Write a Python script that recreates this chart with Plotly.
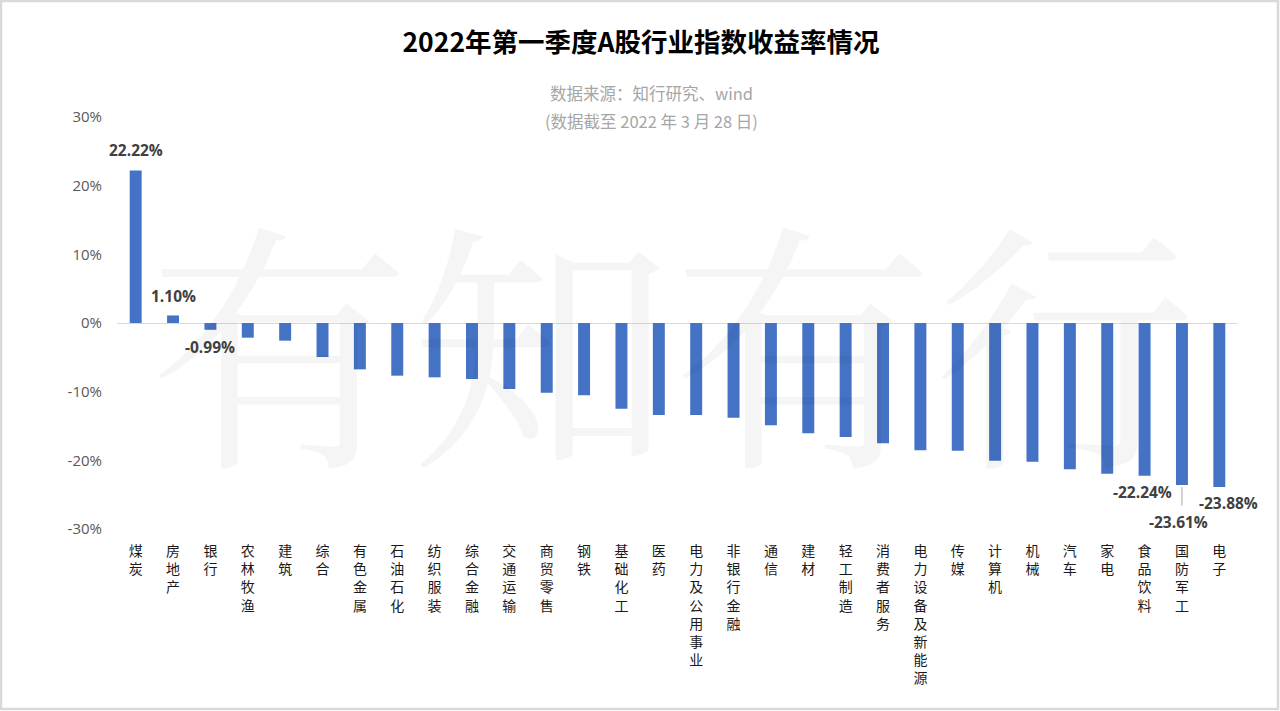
import plotly.graph_objects as go

categories = ["煤炭", "房地产", "银行", "农林牧渔", "建筑", "综合", "有色金属", "石油石化",
              "纺织服装", "综合金融", "交通运输", "商贸零售", "钢铁", "基础化工", "医药",
              "电力及公用事业", "非银行金融", "通信", "建材", "轻工制造", "消费者服务",
              "电力设备及新能源", "传媒", "计算机", "机械", "汽车", "家电", "食品饮料",
              "国防军工", "电子"]
returns = [22.22, 1.10, -0.99, -2.14, -2.57, -4.95, -6.75, -7.67, -7.91, -8.16, -9.61,
           -10.15, -10.53, -12.48, -13.40, -13.40, -13.79, -14.90, -16.07, -16.60, -17.52,
           -18.54, -18.59, -20.05, -20.19, -21.31, -21.94, -22.24, -23.61, -23.88]
y_ticks = [-30, -20, -10, 0, 10, 20, 30]
y_tick_labels = ["-30%", "-20%", "-10%", "0%", "10%", "20%", "30%"]
labelled = ["煤炭", "房地产", "银行", "食品饮料", "国防军工", "电子"]

W, H = 1280, 711
L, R, T, B = 117, 42, 117, 182
pw, ph = W - L - R, H - T - B

CJK = "Microsoft YaHei, Noto Sans CJK SC, sans-serif"
NUM = "Segoe UI, Open Sans, Noto Sans, sans-serif"

fig = go.Figure()
fig.add_trace(go.Bar(
    x=categories, y=returns,
    marker=dict(color="#4472C4", line=dict(width=0)),
    hoverinfo="skip",
))

# vertical (stacked characters) category labels
tick_text = ["<br>".join(list(c)) for c in categories]

fig.update_layout(
    width=W, height=H,
    margin=dict(l=L, r=R, t=T, b=B, pad=0, autoexpand=False),
    paper_bgcolor="white", plot_bgcolor="rgba(0,0,0,0)",
    showlegend=False,
    bargap=0.68,
    title=dict(text="<b>2022年第一季度A股行业指数收益率情况</b>", x=(641 / W), xanchor="center",
               y=1 - 43 / H, yanchor="middle",
               font=dict(family=CJK, size=26.5, color="#000000")),
    xaxis=dict(
        range=[-0.5, len(categories) - 0.5], automargin=False,
        tickmode="array", tickvals=categories, ticktext=tick_text,
        tickangle=0, showgrid=False, showline=False, ticks="",
        tickfont=dict(family=CJK, size=14, color="#1a1a1a"),
        ticklabelstandoff=12,
    ),
    yaxis=dict(
        range=[-30, 30], automargin=False, tickmode="array", tickvals=y_ticks,
        ticktext=y_tick_labels,
        showgrid=False, zeroline=True, zerolinecolor="#d9d9d9", zerolinewidth=1.3,
        showline=False, ticks="", ticklabelstandoff=14,
        tickfont=dict(family=NUM, size=15, color="#595959"),
    ),
)

# subtitle lines
fig.add_annotation(text="数据来源：知行研究、wind", xref="paper", yref="paper",
                   x=(651 - L) / pw, y=(H - B - 93) / ph, showarrow=False,
                   font=dict(family=CJK, size=16.5, color="#a6a6a6"),
                   xanchor="center", yanchor="middle")
fig.add_annotation(text="(数据截至 2022 年 3 月 28 日)", xref="paper", yref="paper",
                   x=(651 - L) / pw, y=(H - B - 121) / ph, showarrow=False,
                   font=dict(family=CJK, size=16.5, color="#a6a6a6"),
                   xanchor="center", yanchor="middle")

# watermark
fig.add_annotation(text="有知有行", xref="paper", yref="paper",
                   x=(672 - L) / pw, y=(H - B - 334) / ph, showarrow=False,
                   font=dict(family="Noto Serif CJK SC, Noto Sans CJK SC, serif", size=262,
                             color="rgba(0,0,0,0.04)"),
                   xanchor="center", yanchor="middle")

# data labels (pixel offsets of label centre from bar end)
vals = dict(zip(categories, returns))
label_offsets = {
    "煤炭": (0, 20),
    "房地产": (0, 19),
    "银行": (0, -17),
    "食品饮料": (-2, -16),
    "国防军工": (-3, -37),
    "电子": (9, -16),
}
for c in labelled:
    v = vals[c]
    dx, dy = label_offsets[c]
    fig.add_annotation(x=c, y=v, text=f"<b>{v:.2f}%</b>", showarrow=False,
                       xshift=dx, yshift=dy, yanchor="middle", xanchor="center",
                       font=dict(family=NUM, size=15.5, color="#404040"))

# leader line for 国防军工 label
fig.add_annotation(x="国防军工", y=vals["国防军工"], ax=0, ay=22, axref="pixel", ayref="pixel",
                   text="", showarrow=True, arrowhead=0, arrowwidth=1, arrowcolor="#a6a6a6",
                   standoff=2)

# outer frame
fig.add_shape(type="rect", xref="paper", yref="paper",
              x0=(1 - L) / pw, x1=(W - 2 - L) / pw,
              y0=(H - B - (H - 2)) / ph, y1=(H - B - 1) / ph,
              line=dict(color="#d9d9d9", width=2.5), fillcolor="rgba(0,0,0,0)", layer="above")

fig.write_html("out.html", config={"displayModeBar": False},
               post_script="document.body.style.margin='0';document.body.style.overflow='hidden';")
